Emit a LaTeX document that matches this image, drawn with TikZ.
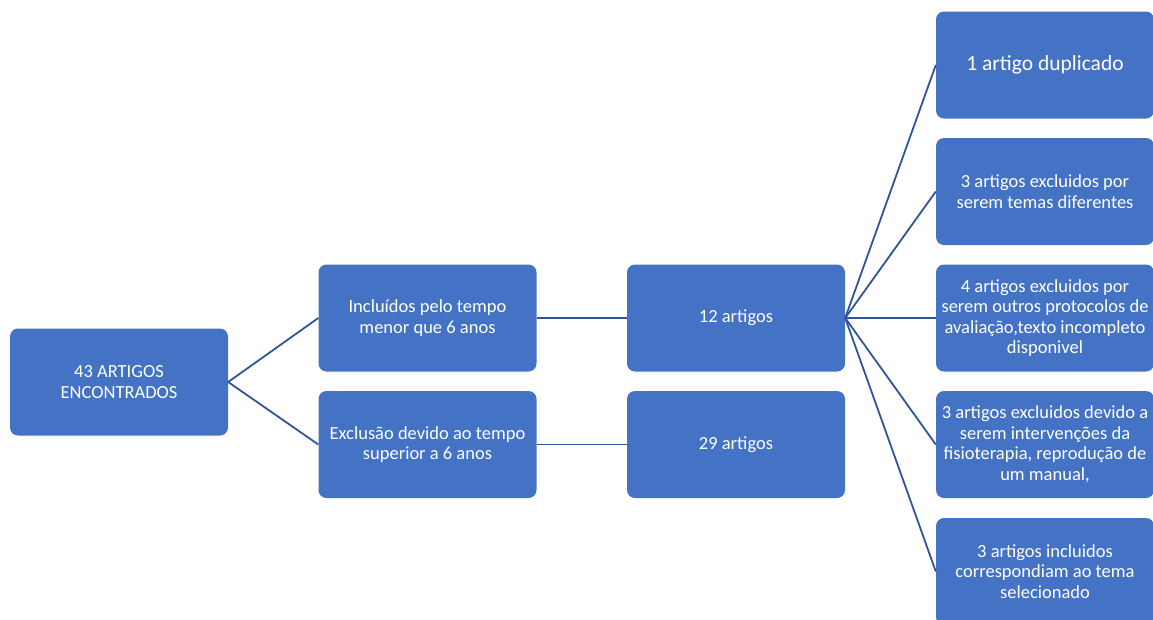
\documentclass[tikz,border=0pt]{standalone}
\usepackage{fontspec}
\setmainfont{Carlito}
\usetikzlibrary{positioning}
\definecolor{boxblue}{HTML}{4472C4}
\definecolor{lineblue}{HTML}{2F5597}
\begin{document}
\begin{tikzpicture}[
        x=1pt, y=1pt,
        box/.style={fill=boxblue, draw=none, rounded corners=8pt, text=white,
            minimum width=218pt, minimum height=107pt, inner sep=2pt,
            align=center, font=\fontsize{18.5}{20.5}\selectfont},
        bigbox/.style={box, font=\fontsize{21.5}{24}\selectfont},
        link/.style={draw=lineblue, line width=1.8pt},
    ]
    \useasboundingbox (0,0) rectangle (1153,-619);
    \node[box](root) at (119,-382){43 ARTIGOS\\ENCONTRADOS};
    \node[box](incl) at (427.5,-318){Incluídos pelo tempo\\menor que 6 anos};
    \node[box](excl) at (427.5,-444.5){Exclusão devido ao tempo\\superior a 6 anos};
    \node[box](a12) at (736,-318){12 artigos};
    \node[box](a29) at (736,-444.5){29 artigos};
    \node[bigbox](dup) at (1045,-65){1 artigo duplicado};
    \node[box](temas) at (1045,-191.5){3 artigos excluidos por\\serem temas diferentes};
    \node[box](prot) at (1045,-318){4 artigos excluidos por\\serem outros protocolos de\\avaliação,texto incompleto\\disponivel};
    \node[box](interv) at (1045,-444.5){3 artigos excluidos devido a\\serem intervenções da\\fisioterapia, reprodução de\\um manual,};
    \node[box](sel) at (1045,-571.5){3 artigos incluidos\\correspondiam ao tema\\selecionado};

    \draw[link] (incl.west) -- (root.east) -- (excl.west);
    \draw[link] (incl) -- (a12);
    \draw[link] (excl) -- (a29);
    \foreach \n in {dup,temas,prot,interv,sel}
        \draw[link] (a12.east) -- (\n.west);
\end{tikzpicture}
\end{document}
